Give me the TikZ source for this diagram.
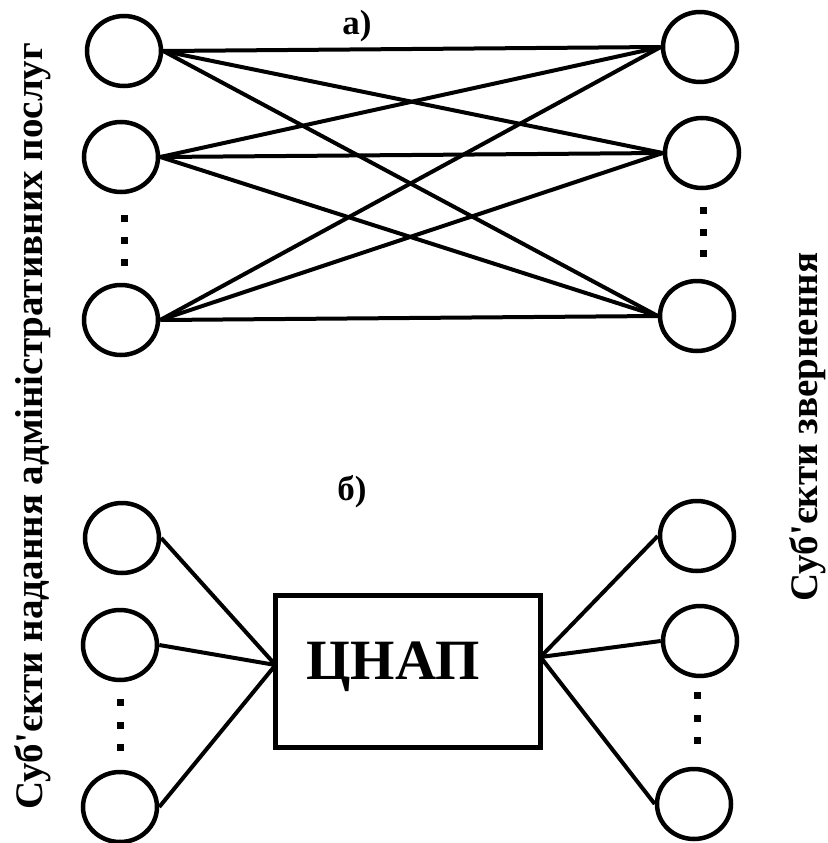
\documentclass[tikz,border=0pt]{standalone}
\usepackage{fontspec}
\setmainfont{LiberationSerif}[Extension=.ttf, UprightFont=*-Regular, BoldFont=*-Bold, Ligatures=NoCommon]
\usetikzlibrary{shapes.geometric}
\tikzset{
  circ/.style={ellipse, draw, line width=4.5pt, minimum width=74pt, minimum height=70pt, inner sep=0pt},
  conn/.style={line width=4pt},
  sidetext/.style={rotate=90, anchor=base, font=\bfseries\fontsize{39}{40}\selectfont, inner sep=0pt},
  tag/.style={anchor=base, font=\bfseries\fontsize{35}{36}\selectfont, inner sep=0pt},
  dotbox/.style={fill=black}
}
\begin{document}
\begin{tikzpicture}[x=1pt, y=-1pt]
\useasboundingbox (0,0) rectangle (827,843);
% part a
\node[circ] (L1) at (124,51) {};
\node[circ] (L2) at (121,157) {};
\node[circ] (L3) at (121,320) {};
\node[circ] (R1) at (700,47) {};
\node[circ] (R2) at (702,153) {};
\node[circ] (R3) at (697,316) {};
\foreach \i in {1,2,3}{
  \foreach \j in {1,2,3}{
    \draw[conn] (L\i.east) -- (R\j.west);
  }
}
\node[tag] (ta) at (357,35) {а)};
\foreach \y in {218,240,262}{\fill[dotbox] (120.5,\y-3.5) rectangle ++(7,7);}
\foreach \y in {210,232,253}{\fill[dotbox] (699.5,\y-3.5) rectangle ++(7,7);}
% part b
\node[circ] (BL1) at (122,538) {};
\node[circ] (BL2) at (120,645) {};
\node[circ] (BL3) at (120,807) {};
\node[circ] (BR1) at (697,536) {};
\node[circ] (BR2) at (700,641) {};
\node[circ] (BR3) at (694,804) {};
\node[draw, line width=5pt, minimum width=265pt, minimum height=152pt, inner sep=0pt] (box) at (408,671.5) {};
\node[anchor=base, font=\bfseries\fontsize{57}{58}\selectfont, inner sep=0pt] (boxlabel) at (393,679) {ЦНАП};
\coordinate (cl) at (275.5,665);
\coordinate (cr) at (540.5,657);
\foreach \i in {1,2,3}{
  \draw[conn] (BL\i.east) -- (cl);
  \draw[conn] (BR\i.west) -- (cr);
}
\node[tag] (tb) at (352,500) {б)};
\foreach \y in {702,725,747}{\fill[dotbox] (116.5,\y-3.5) rectangle ++(7,7);}
\foreach \y in {695,718,740}{\fill[dotbox] (693.5,\y-3.5) rectangle ++(7,7);}
% side labels
\node[sidetext] (lefttext) at (42,426) {Суб\textquotesingle єкти надання адміністративних послуг};
\node[sidetext] (righttext) at (817,427) {Суб\textquotesingle єкти звернення};
\end{tikzpicture}
\end{document}
